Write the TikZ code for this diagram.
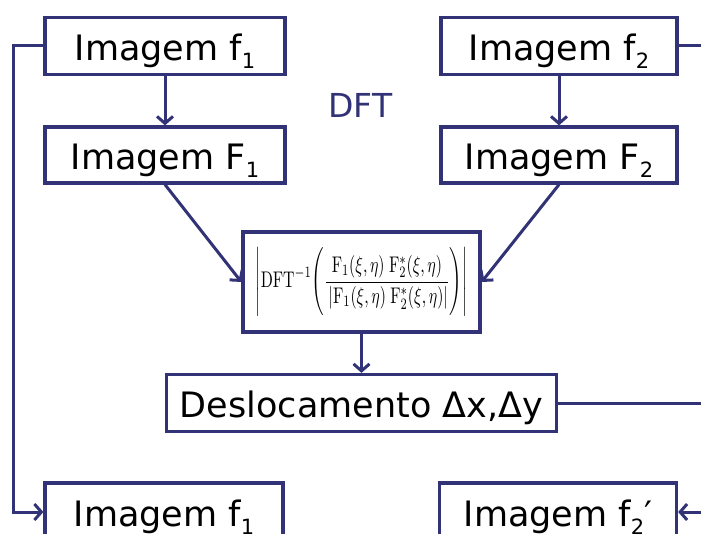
\documentclass[tikz,border=0pt]{standalone}
\usepackage{fontspec}
\usepackage{amsmath}
\usepackage{graphicx}
\usetikzlibrary{arrows.meta}
\newfontfamily\vfont{DejaVu Sans}
\definecolor{navy}{RGB}{50,50,118}
\newcommand\sbs[1]{\raisebox{-0.22em}{\fontsize{21}{21}\selectfont #1}}
\newcommand\prodF{\mathrm{F}_1(\xi,\eta)\;\mathrm{F}_2^{*}(\xi,\eta)}
\begin{document}
\begin{tikzpicture}[x=1pt,y=-1pt,
  box/.style={draw=navy,line width=3.2pt,fill=white,minimum height=57pt,inner sep=0pt,
    font=\vfont\fontsize{35}{40}\selectfont,text height=29pt,text depth=0pt},
  conn/.style={draw=navy,line width=3pt},
  arr/.style={conn,-{Straight Barb[length=7pt,width=16pt,line width=3pt]}}]
\useasboundingbox (0,0) rectangle (701,534);
\node[box,minimum width=240pt] (f1) at (165,46) {Imagem f\sbs{1}};
\node[box,minimum width=240pt,minimum height=56pt] (F1) at (165,155) {Imagem F\sbs{1}};
\node[box,minimum width=236pt] (f2) at (559,46) {Imagem f\sbs{2}};
\node[box,minimum width=236pt,minimum height=56pt] (F2) at (559,155) {Imagem F\sbs{2}};
\node[text=navy,font=\vfont\fontsize{33}{38}\selectfont,inner sep=0pt] (lbl) at (360.5,105) {DFT};
\node[draw=navy,line width=3.2pt,fill=white,minimum width=237pt,minimum height=100pt,inner sep=0pt] (dft) at (361.5,282)
  {\resizebox*{212pt}{68pt}{$\left|\mathrm{DFT}^{-1}\!\left(\dfrac{\rule[-0.5ex]{0pt}{2.8ex}\prodF}{\rule[-1.2ex]{0pt}{3ex}\left|\prodF\right|}\right)\right|$}};
\node[box,minimum width=390pt] (desl) at (361.5,403) {Deslocamento Δx,Δy};
\node[box,minimum width=238pt,minimum height=58pt] (f1b) at (164,512) {Imagem f\sbs{1}};
\node[box,minimum width=237pt,minimum height=58pt] (f2b) at (558,512) {Imagem f\sbs{2}′};
\coordinate (R) at (730,0);
\draw[arr] (f1) -- (F1);
\draw[arr] (f2) -- (F2);
\draw[arr] (F1.south) -- (dft.west);
\draw[arr] (F2.south) -- (dft.east);
\draw[arr] (dft) -- (desl);
\draw[arr] (f1.west) -- ++(-30,0) |- (f1b.west);
\draw[arr] (f2.east) -- (f2.east -| R) |- (f2b.east);
\draw[conn] (desl.east) -- (desl.east -| R);
\end{tikzpicture}
\end{document}
